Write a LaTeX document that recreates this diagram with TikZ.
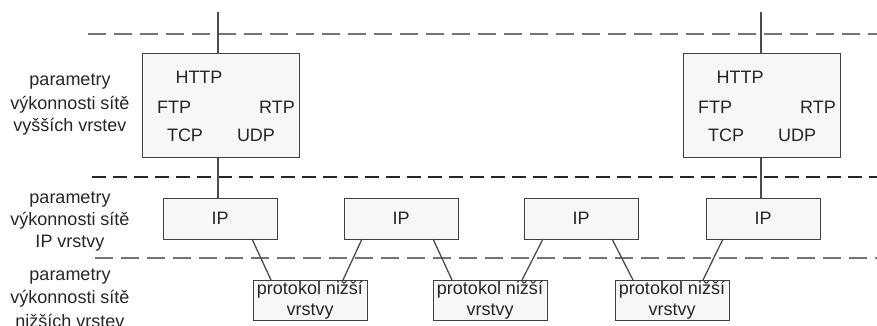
\documentclass[tikz,border=0pt]{standalone}
\usepackage{fontspec}
\setmainfont{Liberation Sans}
\begin{document}
\begin{tikzpicture}[x=1pt,y=-1pt,
  font=\fontsize{18}{22.5}\selectfont,
  every node/.style={text=black!85},
  box/.style={draw=black!75,line width=1.3pt,fill=black!3,inner sep=0pt},
  link/.style={draw=black!70,line width=1.3pt},
  sepline/.style={draw=black!55,line width=2pt,dash pattern=on 18pt off 8pt},
  sepdark/.style={draw=black!85,line width=2.6pt,dash pattern=on 14pt off 7pt},
  lbl/.style={align=center,inner sep=0pt}]
\useasboundingbox (0,0) rectangle (877,325);
\clip (0,0) rectangle (877,325);
\fill[white] (0,0) rectangle (877,325);

% layer separators
\draw[sepline] (88,34) -- (877,34);
\draw[sepdark] (92,177) -- (877,177);
\draw[sepline] (95,258) -- (877,258);

% upper-layer protocol stacks
\foreach \n/\x in {A/142,B/683}{
  \node[box,minimum width=157pt,minimum height=104pt,anchor=north west] (up\n) at (\x,53) {};
}
\foreach \n/\dx in {A/0,B/541}{
  \node at (199+\dx,77) {HTTP};
  \node at (174+\dx,107) {FTP};
  \node at (277+\dx,107) {RTP};
  \node at (185+\dx,135) {TCP};
  \node at (256+\dx,135) {UDP};
}

% IP boxes
\foreach \n/\x in {1/163,2/344,3/524,4/706}{
  \node[box,minimum width=114pt,minimum height=41pt,anchor=north west] (ip\n) at (\x,198) {};
  \node at (\x+57,218) {IP};
}

% lower-layer protocol boxes
\foreach \n/\x in {1/253,2/433,3/615}{
  \node[box,minimum width=114pt,minimum height=40pt,anchor=north west] (low\n) at (\x,280) {};
  \node at (\x+57,290) {protokol nižší};
  \node at (\x+57,312) {vrstvy};
}

% vertical links through the upper stacks
\coordinate (topA) at (218,12);
\coordinate (topB) at (761,12);
\draw[link] (topA) -- (upA.north -| topA);
\draw[link] (upA.south -| topA) -- (ip1.north -| topA);
\draw[link] (topB) -- (upB.north -| topB);
\draw[link] (upB.south -| topB) -- (ip4.north -| topB);

% IP to lower-layer links
\draw[link] (252,239) -- (271,280);
\draw[link] (362,239) -- (343,280);
\draw[link] (433,239) -- (452,280);
\draw[link] (543,239) -- (522,280);
\draw[link] (612,239) -- (633,280);
\draw[link] (723,239) -- (703,280);

% layer captions
\node[lbl] at (70,82) {parametry};
\node[lbl] at (70,105) {výkonnosti sítě};
\node[lbl] at (70,127) {vyšších vrstev};
\node[lbl] at (70,200) {parametry};
\node[lbl] at (70,221) {výkonnosti sítě};
\node[lbl] at (70,243) {IP vrstvy};
\node[lbl] at (70,277) {parametry};
\node[lbl] at (70,299) {výkonnosti sítě};
\node[lbl] at (70,321) {nižších vrstev};
\end{tikzpicture}
\end{document}
